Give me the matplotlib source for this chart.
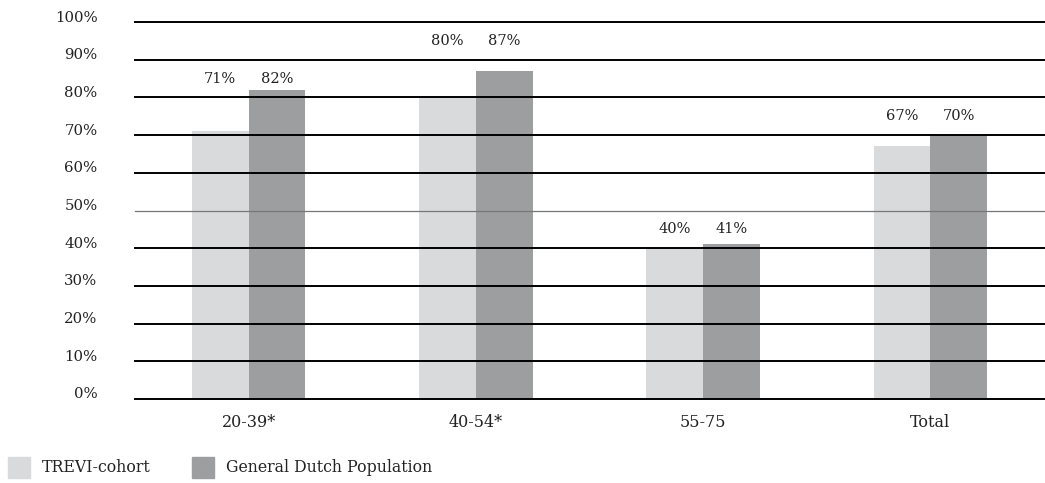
import matplotlib
matplotlib.use("Agg")
import matplotlib.pyplot as plt
import matplotlib.transforms as mtransforms
import numpy as np
from matplotlib.patches import Rectangle

groups = ["20-39*", "40-54*", "55-75", "Total"]
trevi = [71, 80, 40, 67]
dutch = [82, 87, 41, 70]
series_names = ["TREVI-cohort", "General Dutch Population"]
yticks = list(range(0, 101, 10))

light = "#d9dadb"
dark = "#9d9e9f"
ink = "#222222"

plt.rcParams["font.family"] = ["DejaVu Serif"]
plt.rcParams["font.size"] = 10

fig = plt.figure(figsize=(10.45, 4.83), dpi=100)
ax = fig.add_axes([135/1045, 1 - 399/483, 909/1045, 377/483])

x = np.arange(len(groups))
w = 0.25
ax.bar(x - w/2, trevi, w, color=light, zorder=1)
ax.bar(x + w/2, dutch, w, color=dark, zorder=1)

# horizontal rules drawn over the bars
for t in yticks:
    if t == 50:
        ax.axhline(t, color="#777777", lw=0.9, zorder=3, clip_on=False)
    else:
        ax.axhline(t, color="black", lw=1.4, zorder=3, clip_on=False)

# value labels centred in the first grid band that clears the taller bar
for i in range(len(groups)):
    top = max(trevi[i], dutch[i])
    ylab = 10 * np.ceil((top + 2 - 5) / 10) + 5
    ax.text(x[i] - w/2, ylab, f"{trevi[i]}%", ha="center", va="center", fontsize=10.5, color=ink)
    ax.text(x[i] + w/2, ylab, f"{dutch[i]}%", ha="center", va="center", fontsize=10.5, color=ink)

ax.set_xlim(-0.5, len(groups) - 0.5)
ax.set_ylim(0, 100)
ax.set_yticks(yticks)
ax.set_yticklabels([f"{t}%" for t in yticks])
ax.set_xticks(x)
ax.set_xticklabels(groups)
ax.tick_params(axis="both", length=0, colors=ink)
ax.tick_params(axis="y", pad=27, labelsize=10.7)
ax.tick_params(axis="x", pad=11, labelsize=11.5)
for s in ax.spines.values():
    s.set_visible(False)

# y labels sit a little above their rule
lift = mtransforms.ScaledTranslation(0, 6/100, fig.dpi_scale_trans)
for lab in ax.get_yticklabels():
    lab.set_transform(lab.get_transform() + lift)

# legend along the bottom edge
fig.patches.append(Rectangle((8/1045, 1 - 478/483), 22/1045, 21/483, transform=fig.transFigure,
                             color=light, figure=fig))
fig.text(42/1045, 1 - 468/483, series_names[0], va="center", fontsize=11.3, color=ink)
fig.patches.append(Rectangle((192/1045, 1 - 478/483), 22/1045, 21/483, transform=fig.transFigure,
                             color=dark, figure=fig))
fig.text(226/1045, 1 - 468/483, series_names[1], va="center", fontsize=11.3, color=ink)

fig.savefig("out.png", dpi=100)
